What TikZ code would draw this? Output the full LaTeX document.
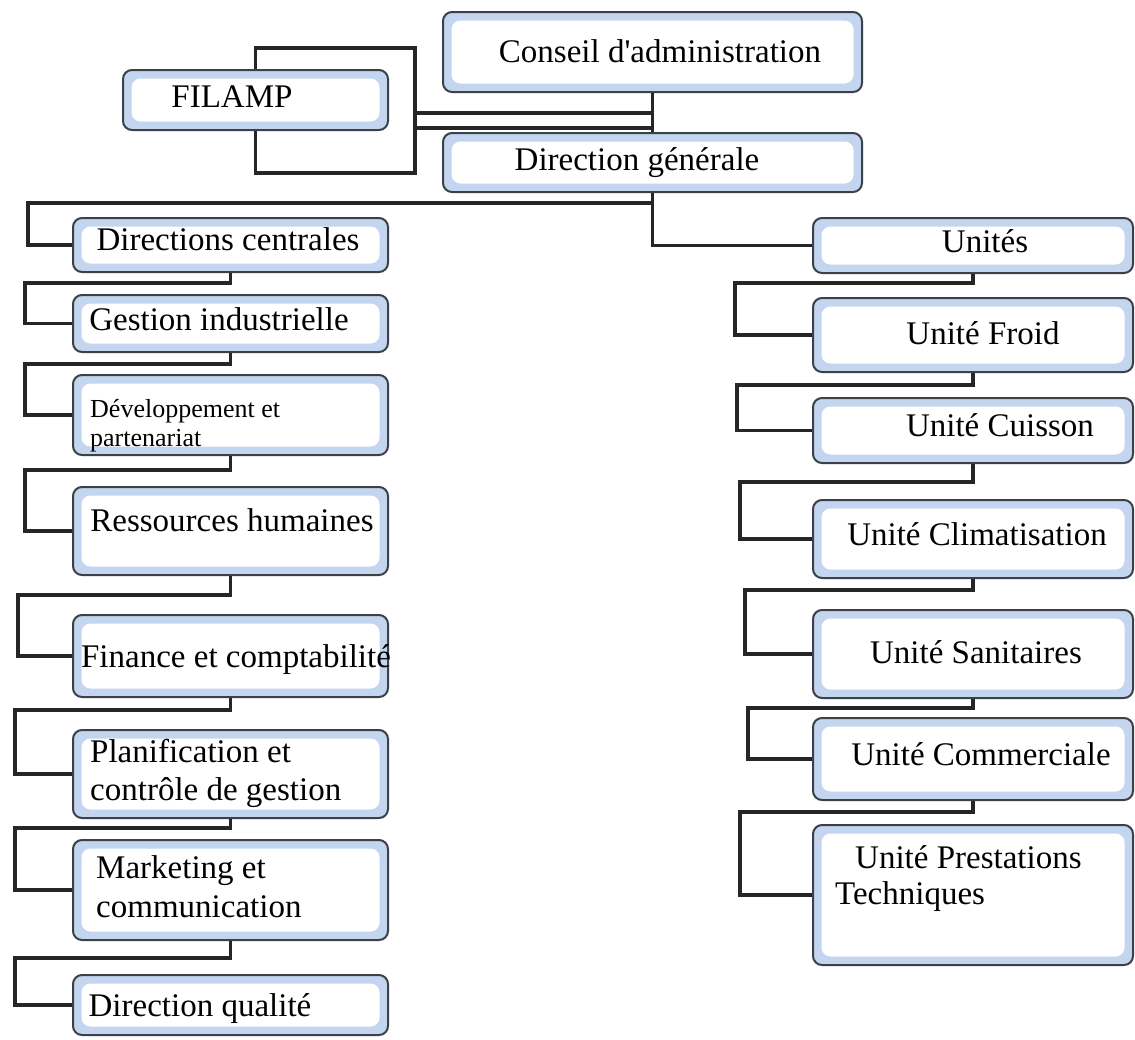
\documentclass[tikz,border=0pt]{standalone}
\usepackage{fontspec}
\setmainfont{Liberation Serif}[Ligatures=TeXOff]
\begin{document}
\begin{tikzpicture}[x=1pt,y=-1pt,
  ubox/.style={draw=boxline, line width=2pt, fill=boxblue, rounded corners=9pt, inner sep=0pt,
    path picture={\fill[white] ([shift={(8.5pt,-8.5pt)}]path picture bounding box.north west) rectangle ([shift={(-8.5pt,8.5pt)}]path picture bounding box.south east);}},
  conn/.style={line width=3.6pt, draw=black!85, line join=miter},
  lab/.style={font=\fontsize{33}{38}\selectfont, inner sep=0pt, anchor=base},
  labl/.style={lab, anchor=base west},
  labs/.style={font=\fontsize{26}{30}\selectfont, inner sep=0pt, anchor=base west}]
\definecolor{boxblue}{HTML}{C3D5EF}
\definecolor{boxline}{HTML}{3C4048}
\useasboundingbox[fill=white] (0,0) rectangle (1135,1039);
\newcommand\bx[5]{\node[ubox, minimum width={(#4-#2)*1pt}, minimum height={(#5-#3)*1pt}] (#1) at ({(#2+#4)/2},{(#3+#5)/2}) {};}
\coordinate (b1) at (415,113);
\coordinate (b2) at (415,128);
% boxes
\bx{ca}{443}{12}{862}{92}
\bx{fi}{123}{70}{388}{130}
\bx{dg}{443}{133}{862}{192}
\bx{dc}{73}{218}{388}{272}
\bx{gi}{73}{295}{388}{352}
\bx{dp}{73}{375}{388}{455}
\bx{rh}{73}{487}{388}{575}
\bx{fc}{73}{615}{388}{697}
\bx{pc}{73}{730}{388}{818}
\bx{mc}{73}{840}{388}{940}
\bx{dq}{73}{975}{388}{1035}
\bx{un}{813}{218}{1133}{273}
\bx{uf}{813}{298}{1133}{372}
\bx{uc}{813}{398}{1133}{463}
\bx{ucl}{813}{500}{1133}{578}
\bx{us}{813}{610}{1133}{698}
\bx{ucm}{813}{718}{1133}{800}
\bx{upt}{813}{825}{1133}{965}
% connectors
\draw[conn] (fi.north) |- (415,48) -- (415,173) -| (fi.south);
\draw[conn] (ca.south) -- (dg.north);
\draw[conn] (b1) -- (b1 -| ca.south);
\draw[conn] (b2) -- (b2 -| ca.south);
\draw[conn] (dg.south) |- (un.west);
\draw[conn] (dg.south) |- (28,203) |- (dc.west);
\draw[conn] (dc.south) |- (25,283) |- (gi.west);
\draw[conn] (gi.south) |- (25,364) |- (dp.west);
\draw[conn] (dp.south) |- (25,470) |- (rh.west);
\draw[conn] (rh.south) |- (18,595) |- (fc.west);
\draw[conn] (fc.south) |- (15,710) |- (pc.west);
\draw[conn] (pc.south) |- (15,828) |- (mc.west);
\draw[conn] (mc.south) |- (15,958) |- (dq.west);
\draw[conn] (un.south) |- (735,283) |- (uf.west);
\draw[conn] (uf.south) |- (737,385) |- (uc.west);
\draw[conn] (uc.south) |- (740,482) |- (ucl.west);
\draw[conn] (ucl.south) |- (745,590) |- (us.west);
\draw[conn] (us.south) |- (748,708) |- (ucm.west);
\draw[conn] (ucm.south) |- (740,812) |- (upt.west);
% texts
\node[lab] (tca) at (660,62) {Conseil d'administration};
\node[lab] (tfi) at (232,107) {FILAMP};
\node[lab] (tdg) at (637,170) {Direction générale};
\node[lab] (tdc) at (228,250) {Directions centrales};
\node[lab] (tgi) at (219,330) {Gestion industrielle};
\node[labs] (tdp1) at (90,417) {Développement et};
\node[labs] (tdp2) at (90,446) {partenariat};
\node[lab] (trh) at (232,531) {Ressources humaines};
\node[lab] (tfc) at (236,667) {Finance et comptabilité};
\node[labl] (tpc1) at (90,762) {Planification et};
\node[labl] (tpc2) at (90,800) {contrôle de gestion};
\node[labl] (tmc1) at (96,878) {Marketing et};
\node[labl] (tmc2) at (96,917) {communication};
\node[lab] (tdq) at (200,1016) {Direction qualité};
\node[lab] (tun) at (985,252) {Unités};
\node[lab] (tuf) at (983,344) {Unité Froid};
\node[lab] (tuc) at (1000,436) {Unité Cuisson};
\node[lab] (tucl) at (977,545) {Unité Climatisation};
\node[lab] (tus) at (976,663) {Unité Sanitaires};
\node[lab] (tucm) at (981,765) {Unité Commerciale};
\node[labl] (tupt1) at (855,868) {Unité Prestations};
\node[labl] (tupt2) at (835,904) {Techniques};
\end{tikzpicture}
\end{document}
